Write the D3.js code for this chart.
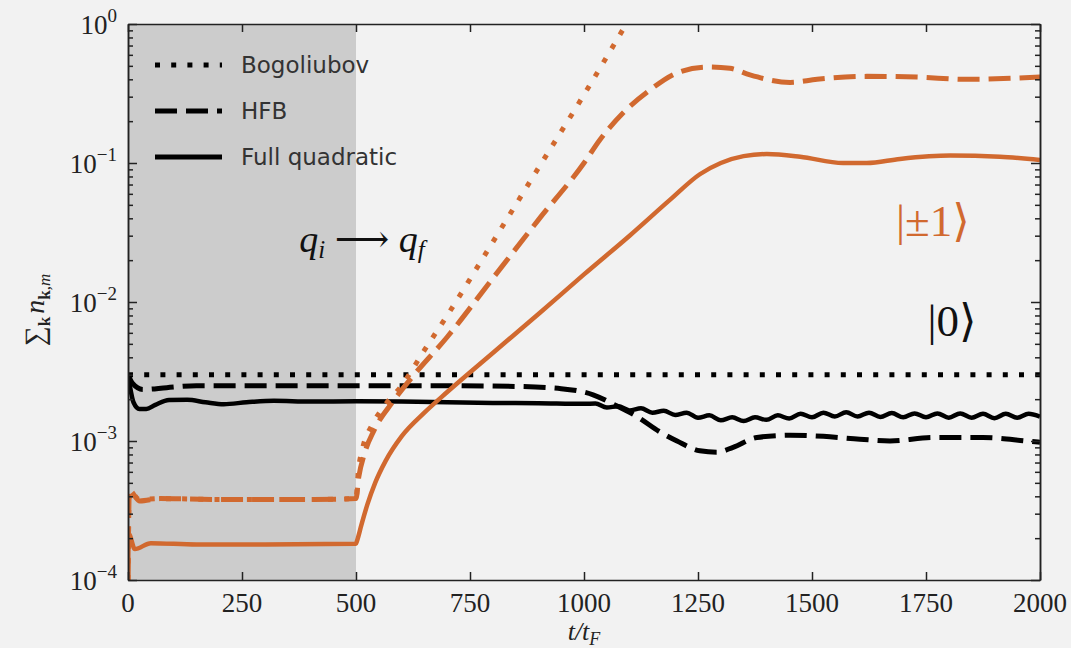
<!DOCTYPE html>
<html>
<head>
<meta charset="utf-8">
<script src="https://cdn.jsdelivr.net/npm/d3@7"></script>
<style>
  html, body { margin: 0; padding: 0; background: #f2f2f2; }
  svg { display: block; }
</style>
</head>
<body>
<div id="chart"></div>
<script>
// --- DATA ---
// each series: [t / t_F, sum_k n_k,m]
const zeroBogoliubov = [[0, 3.0e-3], [2000, 3.0e-3]];

const zeroHFB = [
  [0, 3.0e-3], [10, 2.6e-3], [33, 2.35e-3], [85, 2.42e-3], [150, 2.5e-3], [300, 2.5e-3],
  [500, 2.5e-3], [700, 2.5e-3], [850, 2.47e-3], [950, 2.38e-3], [1020, 2.15e-3],
  [1070, 1.8e-3], [1116, 1.5e-3], [1167, 1.16e-3], [1204, 1.0e-3], [1254, 8.5e-4],
  [1291, 8.3e-4], [1327, 9.0e-4], [1379, 1.06e-3], [1452, 1.1e-3], [1525, 1.08e-3],
  [1605, 1.03e-3], [1671, 1.0e-3], [1766, 1.06e-3], [1875, 1.06e-3], [1971, 1.0e-3],
  [2000, 9.8e-4]
];

const zeroFull = [
  [0, 3.0e-3], [4, 2.5e-3], [12, 1.9e-3], [25, 1.7e-3], [40, 1.7e-3], [60, 1.82e-3],
  [90, 1.97e-3], [130, 1.98e-3], [170, 1.9e-3], [210, 1.84e-3], [260, 1.9e-3],
  [320, 1.95e-3], [400, 1.92e-3], [500, 1.93e-3], [600, 1.92e-3], [700, 1.9e-3],
  [800, 1.88e-3], [900, 1.87e-3], [1000, 1.85e-3], [1025, 1.86e-3], [1050, 1.74e-3],
  [1075, 1.78e-3], [1100, 1.66e-3], [1125, 1.72e-3], [1150, 1.6e-3], [1175, 1.65e-3],
  [1200, 1.54e-3], [1225, 1.6e-3], [1250, 1.47e-3], [1275, 1.53e-3], [1300, 1.41e-3],
  [1325, 1.48e-3], [1350, 1.39e-3], [1375, 1.48e-3], [1400, 1.42e-3], [1425, 1.53e-3],
  [1450, 1.45e-3], [1475, 1.57e-3], [1500, 1.48e-3], [1525, 1.6e-3], [1550, 1.5e-3],
  [1575, 1.61e-3], [1600, 1.5e-3], [1625, 1.6e-3], [1650, 1.49e-3], [1675, 1.59e-3],
  [1700, 1.48e-3], [1725, 1.58e-3], [1750, 1.48e-3], [1775, 1.58e-3], [1800, 1.47e-3],
  [1825, 1.58e-3], [1850, 1.47e-3], [1875, 1.57e-3], [1900, 1.46e-3], [1925, 1.57e-3],
  [1950, 1.47e-3], [1975, 1.57e-3], [2000, 1.5e-3]
];

const pmBogoliubov = [
  [0, 1.0e-4], [3, 4.4e-4], [25, 3.8e-4], [70, 3.85e-4], [200, 3.8e-4], [400, 3.8e-4],
  [500, 3.85e-4], [505, 6.0e-4], [515, 9.0e-4], [535, 1.3e-3], [560, 1.75e-3],
  [600, 2.5e-3], [650, 4.5e-3], [700, 8.0e-3], [800, 2.7e-2], [900, 9.2e-2],
  [1000, 0.31], [1100, 1.1]
];

const pmHFB = [
  [0, 1.0e-4], [3, 4.4e-4], [26, 3.7e-4], [70, 3.85e-4], [200, 3.8e-4], [400, 3.8e-4],
  [500, 3.85e-4], [506, 5.5e-4], [518, 8.0e-4], [540, 1.2e-3], [580, 1.9e-3],
  [620, 2.8e-3], [700, 5.6e-3], [800, 1.48e-2], [900, 3.9e-2], [1000, 0.1],
  [1035, 0.147], [1086, 0.23], [1145, 0.336], [1204, 0.445], [1270, 0.49], [1320, 0.48],
  [1364, 0.43], [1452, 0.38], [1511, 0.4], [1620, 0.42], [1730, 0.415], [1840, 0.4],
  [2000, 0.415]
];

const pmFull = [
  [0, 1.0e-4], [2, 2.14e-4], [15, 1.67e-4], [50, 1.84e-4], [150, 1.8e-4], [300, 1.8e-4],
  [500, 1.82e-4], [502, 1.9e-4], [512, 2.5e-4], [525, 3.5e-4], [542, 5.0e-4],
  [565, 7.2e-4], [600, 1.08e-3], [650, 1.6e-3], [700, 2.25e-3], [800, 4.3e-3],
  [904, 8.4e-3], [1000, 1.58e-2], [1100, 3.0e-2], [1189, 5.45e-2], [1254, 8.3e-2],
  [1300, 0.1], [1350, 0.112], [1401, 0.116], [1474, 0.111], [1568, 0.1], [1620, 0.1],
  [1693, 0.107], [1803, 0.113], [1912, 0.111], [2000, 0.105]
];

const xTicks = [0, 250, 500, 750, 1000, 1250, 1500, 1750, 2000];
const yExponents = [0, -1, -2, -3, -4];
const legendLabels = ["Bogoliubov", "HFB", "Full quadratic"];
const quenchEnd = 500;

// --- SETUP ---
const width = 1071;
const height = 648;
const orange = "#d1692f";
const serif = "'Liberation Serif', 'DejaVu Serif', serif";

const x = d3.scaleLinear().domain([0, 2000]).range([128, 1040]);
const y = d3.scaleLog().domain([1e-4, 1]).range([580, 24]);

const svg = d3.select("#chart").append("svg")
  .attr("width", width)
  .attr("height", height);

svg.append("rect").attr("width", width).attr("height", height).attr("fill", "#f2f2f2");

svg.append("defs").append("clipPath").attr("id", "plot-clip")
  .append("rect")
  .attr("x", x(0)).attr("y", y(1))
  .attr("width", x(2000) - x(0)).attr("height", y(1e-4) - y(1));

// shaded quench period
svg.append("rect")
  .attr("x", x(0)).attr("y", y(1))
  .attr("width", x(quenchEnd) - x(0))
  .attr("height", y(1e-4) - y(1))
  .attr("fill", "#cccccc");

// --- CURVES ---
const line = d3.line()
  .x(d => x(d[0]))
  .y(d => y(d[1]))
  .curve(d3.curveMonotoneX);

const DOT = "5,11.2";
const DASH = "22,9";

const series = [
  { data: zeroBogoliubov, color: "#000", dash: DOT },
  { data: zeroHFB, color: "#000", dash: DASH },
  { data: zeroFull, color: "#000", dash: null },
  { data: pmBogoliubov, color: orange, dash: DOT },
  { data: pmHFB, color: orange, dash: DASH },
  { data: pmFull, color: orange, dash: null }
];

const curves = svg.append("g").attr("clip-path", "url(#plot-clip)");
series.forEach(s => {
  curves.append("path")
    .datum(s.data)
    .attr("d", line)
    .attr("fill", "none")
    .attr("stroke", s.color)
    .attr("stroke-width", s.dash ? 5 : 4.5)
    .attr("stroke-dasharray", s.dash)
    .attr("stroke-linejoin", "round");
});

// --- AXES (ticks pointing inward, as in the picture) ---
const minorTicks = [];
for (let e = -4; e < 0; e++) {
  for (let m = 2; m <= 9; m++) minorTicks.push(m * Math.pow(10, e));
}
const majorY = yExponents.map(e => Math.pow(10, e));

function styleAxis(g) {
  g.selectAll("path, line").attr("stroke", "#222").attr("stroke-width", 1.5);
  g.selectAll("text").remove();
}

svg.append("g").attr("transform", `translate(0,${y(1e-4)})`)
  .call(d3.axisBottom(x).tickValues(xTicks).tickSize(-8).tickSizeOuter(0)).call(styleAxis);
svg.append("g").attr("transform", `translate(0,${y(1)})`)
  .call(d3.axisTop(x).tickValues(xTicks).tickSize(-8).tickSizeOuter(0)).call(styleAxis);
svg.append("g").attr("transform", `translate(${x(0)},0)`)
  .call(d3.axisLeft(y).tickValues(majorY).tickSize(-9).tickSizeOuter(0)).call(styleAxis);
svg.append("g").attr("transform", `translate(${x(2000)},0)`)
  .call(d3.axisRight(y).tickValues(majorY).tickSize(-9).tickSizeOuter(0)).call(styleAxis);
svg.append("g").attr("transform", `translate(${x(0)},0)`)
  .call(d3.axisLeft(y).tickValues(minorTicks).tickSize(-5).tickSizeOuter(0)).call(styleAxis);
svg.append("g").attr("transform", `translate(${x(2000)},0)`)
  .call(d3.axisRight(y).tickValues(minorTicks).tickSize(-5).tickSizeOuter(0)).call(styleAxis);

// tick labels
svg.append("g").selectAll("text")
  .data(xTicks)
  .join("text")
  .attr("x", d => x(d))
  .attr("y", 612)
  .attr("text-anchor", "middle")
  .attr("font-family", serif)
  .attr("font-size", 27)
  .attr("fill", "#222")
  .text(d => d);

const yLabels = svg.append("g").selectAll("text")
  .data(yExponents)
  .join("text")
  .attr("x", 117)
  .attr("y", d => y(Math.pow(10, d)) + 10)
  .attr("text-anchor", "end")
  .attr("font-family", serif)
  .attr("font-size", 27)
  .attr("fill", "#222");
yLabels.append("tspan").text("10");
yLabels.append("tspan")
  .attr("dy", -12)
  .attr("font-size", 19)
  .text(d => d === 0 ? "0" : "\u2212" + Math.abs(d));

// axis titles
const xTitle = svg.append("text")
  .attr("x", x(1000))
  .attr("y", 640)
  .attr("text-anchor", "middle")
  .attr("font-family", serif)
  .attr("font-size", 26)
  .attr("font-style", "italic")
  .attr("fill", "#222");
xTitle.append("tspan").text("t/t");
xTitle.append("tspan").attr("font-size", 18).attr("dy", 5).text("F");

const yTitle = svg.append("text")
  .attr("transform", "translate(44,310) rotate(-90)")
  .attr("text-anchor", "middle")
  .attr("font-family", serif)
  .attr("font-size", 28)
  .attr("fill", "#222");
yTitle.append("tspan").text("\u2211");
yTitle.append("tspan").attr("font-size", 17).attr("font-weight", "bold").attr("dy", 6).text("k");
yTitle.append("tspan").attr("font-style", "italic").attr("dy", -6).attr("dx", 3).text("n");
yTitle.append("tspan").attr("font-size", 17).attr("font-weight", "bold").attr("dy", 6).text("k");
yTitle.append("tspan").attr("font-size", 17).attr("font-style", "italic").text(",m");

// --- ANNOTATIONS ---
const quench = svg.append("text")
  .attr("x", 362)
  .attr("y", 252)
  .attr("text-anchor", "middle")
  .attr("font-family", serif)
  .attr("font-size", 38)
  .attr("fill", "#111");
quench.append("tspan").attr("font-style", "italic").text("q");
quench.append("tspan").attr("font-style", "italic").attr("font-size", 25).attr("dy", 6).text("i");
quench.append("tspan").attr("dy", -6).text(" \u27f6 ");
quench.append("tspan").attr("font-style", "italic").text("q");
quench.append("tspan").attr("font-style", "italic").attr("font-size", 25).attr("dy", 6).text("f");

svg.append("text")
  .attr("x", 933)
  .attr("y", 236)
  .attr("text-anchor", "middle")
  .attr("font-family", serif)
  .attr("font-size", 45)
  .attr("fill", orange)
  .text("|\u00b11\u27e9");

svg.append("text")
  .attr("x", 952)
  .attr("y", 336)
  .attr("text-anchor", "middle")
  .attr("font-family", serif)
  .attr("font-size", 45)
  .attr("fill", "#111")
  .text("|0\u27e9");

// --- LEGEND ---
const legendDash = [DOT, DASH, null];
const legend = svg.append("g");
legendLabels.forEach((label, i) => {
  const ly = 65 + i * 46;
  legend.append("line")
    .attr("x1", 155).attr("x2", 222)
    .attr("y1", ly).attr("y2", ly)
    .attr("stroke", "#000")
    .attr("stroke-width", 5)
    .attr("stroke-dasharray", legendDash[i]);
  legend.append("text")
    .attr("x", 241)
    .attr("y", ly + 8)
    .attr("font-family", "'DejaVu Sans', sans-serif")
    .attr("font-size", 23)
    .attr("fill", "#333")
    .text(label);
});
</script>
</body>
</html>
